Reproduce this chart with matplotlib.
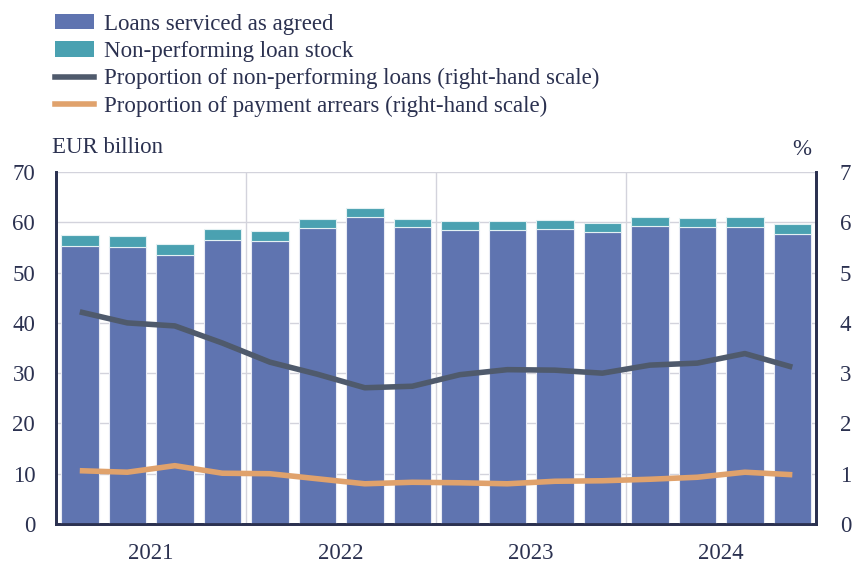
import matplotlib.pyplot as plt
from matplotlib.patches import Patch
from matplotlib.lines import Line2D
import numpy as np

quarters = ['2021Q1', '2021Q2', '2021Q3', '2021Q4',
            '2022Q1', '2022Q2', '2022Q3', '2022Q4',
            '2023Q1', '2023Q2', '2023Q3', '2023Q4',
            '2024Q1', '2024Q2', '2024Q3', '2024Q4']
years = ['2021', '2022', '2023', '2024']

# EUR billion
serviced = [55.2, 55.0, 53.6, 56.5, 56.3, 58.8, 61.1, 59.0,
            58.4, 58.5, 58.6, 58.1, 59.2, 59.0, 59.1, 57.7]
npl_stock = [2.3, 2.2, 2.1, 2.1, 1.9, 1.9, 1.7, 1.6,
             1.8, 1.8, 1.8, 1.8, 1.9, 1.9, 2.0, 1.9]
# %
npl_share = [4.22, 4.00, 3.94, 3.60, 3.22, 2.98, 2.71, 2.74,
             2.97, 3.07, 3.06, 3.00, 3.16, 3.20, 3.39, 3.12]
arrears_share = [1.06, 1.03, 1.16, 1.01, 1.00, 0.90, 0.80, 0.83,
                 0.82, 0.80, 0.85, 0.86, 0.89, 0.93, 1.03, 0.98]

c_blue = '#5f74b0'
c_teal = '#4aa1b1'
c_dark = '#4f5a6c'
c_orange = '#e0a26c'
c_text = '#2b3150'
c_grid = '#d3d3dc'

plt.rcParams['font.family'] = ['Liberation Serif', 'DejaVu Serif']
fs = 16.5

fig = plt.figure(figsize=(8.54, 5.66), dpi=100)
ax = fig.add_axes([0.0656, 0.0742, 0.89, 0.6218])
ax2 = ax.twinx()

x = np.arange(len(quarters))
ax.bar(x, serviced, width=0.79, color=c_blue, edgecolor='#e8ebf4', linewidth=0.8, zorder=3)
ax.bar(x, npl_stock, width=0.79, bottom=serviced, color=c_teal, edgecolor='#e3f1f3',
       linewidth=0.8, zorder=3)

ax2.plot(x, npl_share, color=c_dark, lw=4, solid_capstyle='butt', zorder=4)
ax2.plot(x, arrears_share, color=c_orange, lw=4, solid_capstyle='butt', zorder=4)

ax.set_xlim(-0.5, len(quarters) - 0.5)
ax.set_ylim(0, 70)
ax2.set_ylim(0, 7)
ax.set_yticks(range(0, 71, 10))
ax2.set_yticks(range(0, 8))

# year boundaries carry the grid, year centres carry the labels
ax.set_xticks([3.5, 7.5, 11.5])
ax.set_xticklabels([])
ax.set_xticks([1.5, 5.5, 9.5, 13.5], minor=True)
ax.set_xticklabels(years, minor=True)
ax.tick_params(axis='x', which='both', length=0, colors=c_text, labelsize=fs, pad=14)
ax.tick_params(axis='y', length=0, colors=c_text, labelsize=fs, pad=15)
ax2.tick_params(axis='y', length=0, colors=c_text, labelsize=fs, pad=17)

ax.grid(True, axis='y', color=c_grid, lw=1, zorder=0)
ax.grid(True, axis='x', which='major', color=c_grid, lw=1, zorder=0)
ax.set_axisbelow(True)

for a in (ax, ax2):
    a.spines['top'].set_visible(False)
    for s in ('left', 'right', 'bottom'):
        a.spines[s].set_color(c_text)
        a.spines[s].set_linewidth(2)

fig.text(0.061, 1 - 153 / 566, 'EUR billion', color=c_text, fontsize=fs, va='baseline')
fig.text(0.928, 1 - 155 / 566, '%', color=c_text, fontsize=fs, va='baseline')

handles = [
    Patch(facecolor=c_blue, edgecolor='none'),
    Patch(facecolor=c_teal, edgecolor='none'),
    Line2D([], [], color=c_dark, lw=4),
    Line2D([], [], color=c_orange, lw=4),
]
labels = ['Loans serviced as agreed', 'Non-performing loan stock',
          'Proportion of non-performing loans (right-hand scale)',
          'Proportion of payment arrears (right-hand scale)']
leg = fig.legend(handles, labels, loc='upper left', bbox_to_anchor=(0.04, 1.012),
                 frameon=False, fontsize=fs, handlelength=1.7, handleheight=0.65,
                 handletextpad=0.44, labelspacing=0.27, labelcolor=c_text)

fig.savefig('out.png', dpi=100)
